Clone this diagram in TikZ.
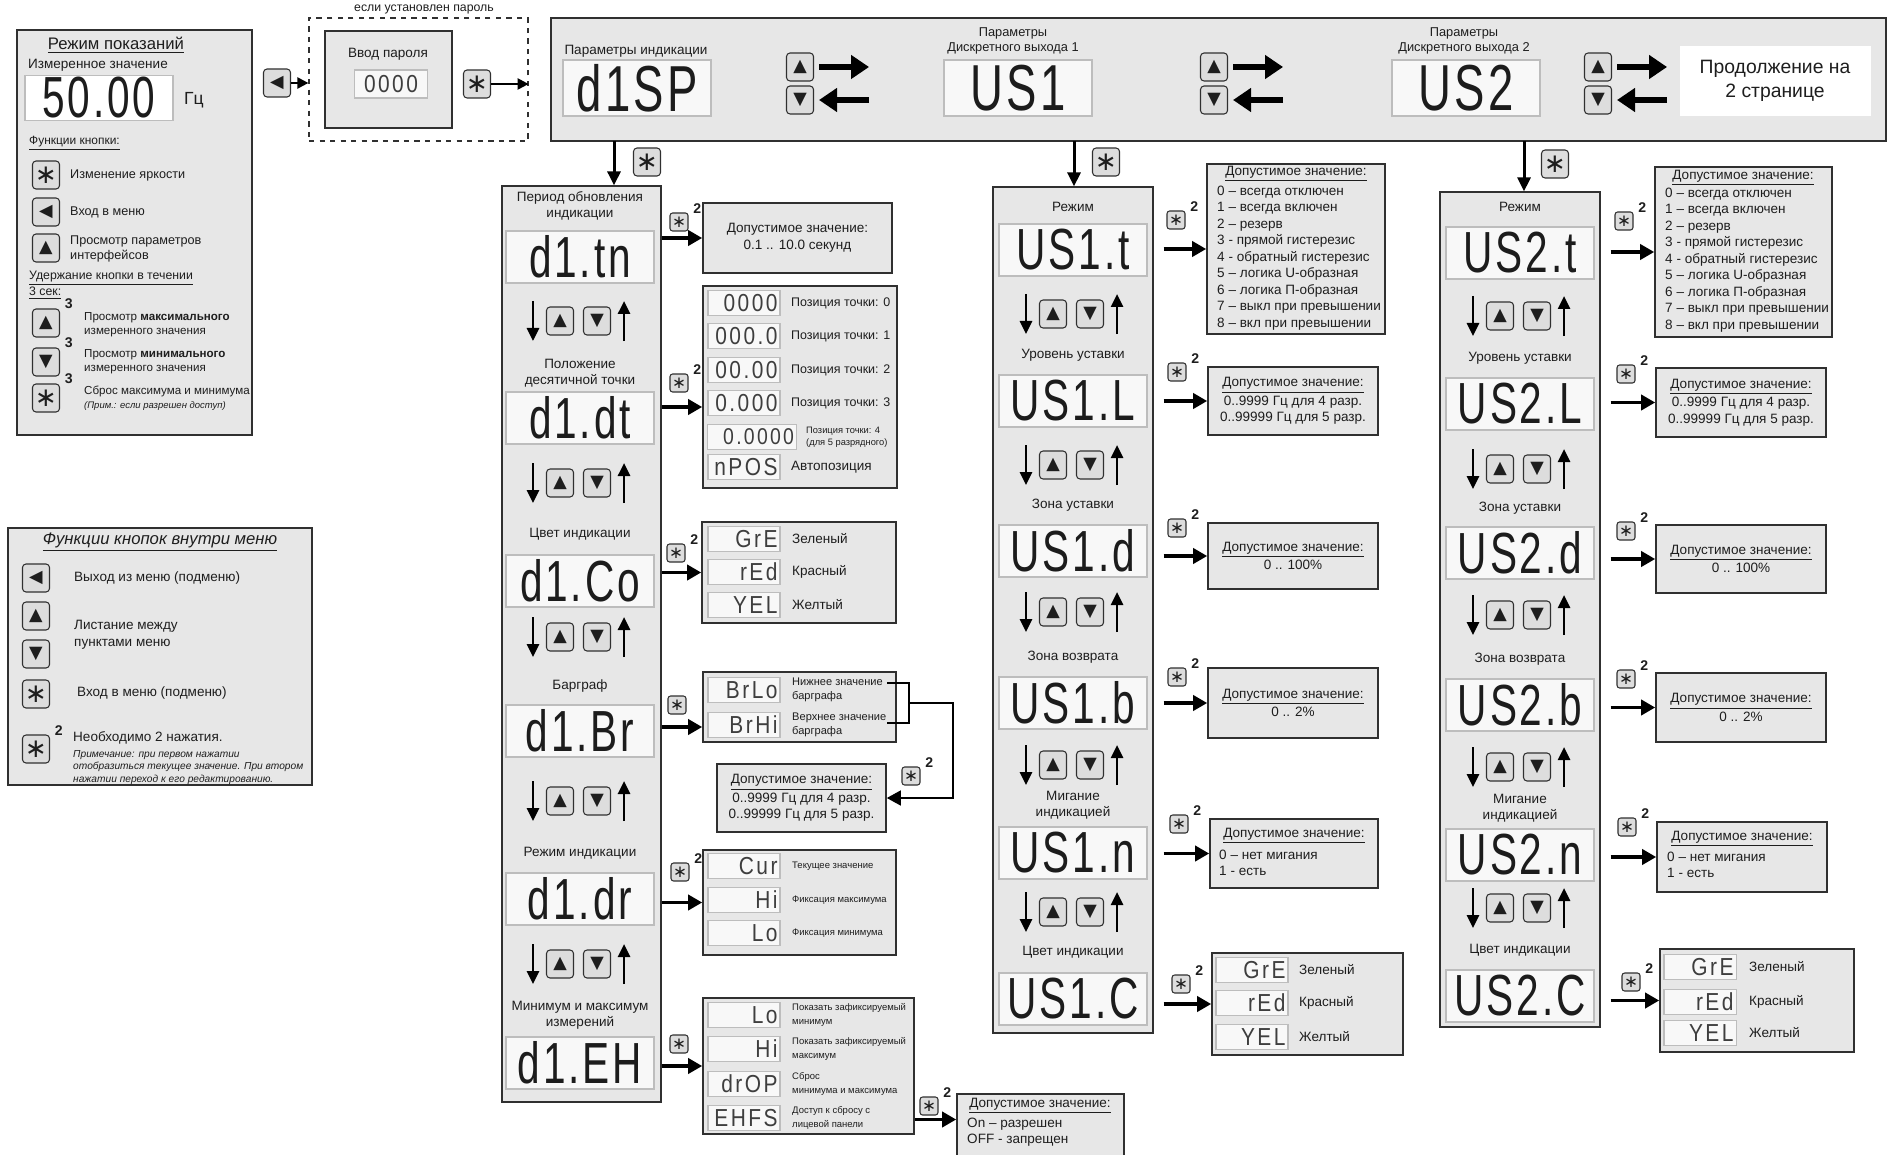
\documentclass[tikz,border=0pt]{standalone}
\usepackage{fontspec}
\setmainfont{Liberation Sans}
\newfontfamily\segfont[FakeStretch=0.7,LetterSpace=5]{Liberation Sans}
\newfontfamily\segsmall[FakeStretch=0.85,LetterSpace=10]{Liberation Sans}
\newfontfamily\btnfont{DejaVu Sans}
\usetikzlibrary{arrows.meta, positioning, calc, fit}
\definecolor{panelGray}{HTML}{E7E7E7}
\definecolor{lineDark}{HTML}{303030}
\definecolor{dispEdge}{HTML}{BDBDBD}
\definecolor{dispFill}{HTML}{F8F8F8}
\definecolor{btnFill}{HTML}{DDDDDD}
\definecolor{segInk}{HTML}{1C1C1C}
\definecolor{inkDark}{HTML}{1E1E1E}
\tikzset{
  panel/.style={draw=lineDark, fill=panelGray, line width=0.7pt, inner sep=0pt},
  optbox/.style={draw=lineDark, fill=panelGray, line width=0.9pt, inner sep=0pt},
  dispL/.style={draw=dispEdge, fill=dispFill, line width=0.8pt, inner sep=0pt, text=segInk,
                minimum width=29.6mm, minimum height=10.4mm,
                font=\segfont\fontsize{33}{33}\selectfont},
  dispT/.style={dispL, minimum height=11.2mm, font=\segfont\fontsize{37}{37}\selectfont},
  dispS/.style={draw=dispEdge, fill=dispFill, line width=0.6pt, inner xsep=0.5mm, inner ysep=0pt,
                text=segInk!85, minimum height=5mm, text width=13.4mm, align=right,
                font=\segsmall\fontsize{14}{14}\selectfont},
  btn/.style={rectangle, rounded corners=2pt, draw=lineDark, fill=btnFill, line width=0.6pt,
              minimum width=5.4mm, minimum height=5.6mm, inner sep=0pt,
              font=\btnfont\fontsize{10}{10}\selectfont},
  starB/.style={font=\btnfont\fontsize{15}{15}\selectfont},
  btnS/.style={btn, rounded corners=1.5pt, minimum width=3.6mm, minimum height=3.6mm,
               font=\btnfont\fontsize{9.5}{9.5}\selectfont},
  supN/.style={font=\fontsize{8}{8}\selectfont\bfseries, inner sep=0.3pt, xshift=0.8mm, yshift=-0.3mm},
  two/.style={label={[supN]north east:2}},
  three/.style={label={[supN]north east:3}},
  lbl/.style={align=center},
  note/.style={anchor=west, align=left},
  tinyTxt/.style={anchor=west, align=left, font=\fontsize{5.4}{8.2}\selectfont},
  arrowK/.style={-{Triangle[length=2.8mm, width=2.6mm]}, line width=0.6mm, draw=black},
  arrowS/.style={-{Triangle[length=2.8mm, width=3mm]}, line width=0.7mm, draw=black},
  arrowL/.style={-{Triangle[length=2.8mm, width=3mm]}, line width=0.3mm, draw=black},
  arrowT/.style={-{Triangle[length=2.2mm, width=2.2mm]}, line width=0.45mm, draw=black},
  navArrow/.style={-{Triangle[length=2.6mm, width=2.4mm]}, line width=0.55mm, draw=black},
  bigArrow/.style={-{Triangle[length=3.6mm, width=4.6mm]}, line width=1.1mm, draw=black},
}
% up/down pair with side arrows inside a column
\newcommand{\navrow}[3]{%
  \node[btn] (#3u) at (#1-20,#2) {▲};
  \node[btn] (#3d) at (#1+17,#2) {▼};
  \draw[navArrow] ($(#3u.west)+(-13,-20)$) -- ($(#3u.west)+(-13,20)$);
  \draw[navArrow] ($(#3d.east)+(13,20)$) -- ($(#3d.east)+(13,-20)$);
}
\newcommand{\modeList}{0 – всегда отключен\\1 – всегда включен\\2 – резерв\\3 - прямой гистерезис\\4 - обратный гистерезис\\5 – логика U-образная\\6 – логика П-образная\\7 – выкл при превышении\\8 – вкл при превышении}
\newcommand{\rangeHz}{\underline{Допустимое значение:}\\[1pt]0..9999 Гц для 4 разр.\\0..99999 Гц для 5 разр.}

\begin{document}
\begin{tikzpicture}[x=0.2mm, y=-0.2mm, text=inkDark, font=\fontsize{7.7}{9.4}\selectfont]
  \useasboundingbox[fill=white] (0,0) rectangle (1895,1155);

  %% Режим показаний
  \node[panel, fit={(17,30) (252,435)}] (modeBox) {};
  \node[font=\fontsize{9.5}{11}\selectfont] (modeTtl) at (116,45) {\underline{Режим показаний}};
  \node[anchor=west] (measLbl) at (22,65) {Измеренное значение};
  \node[dispL, fill=white, minimum height=9mm, font=\segfont\fontsize{33}{33}\selectfont] (measVal) at (99,98) {50.00};
  \node[font=\fontsize{10}{10}\selectfont] (measUnit) at (194,100) {Гц};
  \node[anchor=west, font=\fontsize{6.8}{8}\selectfont] (keyTtl) at (23,143) {\underline{Функции кнопки:}};
  \node[btn, starB] (kStar) at (46,175) {∗};
  \node[note, font=\fontsize{7.2}{8.6}\selectfont] (kStarT) at (64,175) {Изменение яркости};
  \node[btn] (kLeft) at (46,212) {◀};
  \node[note, font=\fontsize{7.2}{8.6}\selectfont] (kLeftT) at (64,212) {Вход в меню};
  \node[btn] (kUp) at (46,248) {▲};
  \node[note, font=\fontsize{7.2}{8.6}\selectfont] (kUpT) at (64,249) {Просмотр параметров\\интерфейсов};
  \node[anchor=west, font=\fontsize{7}{8.4}\selectfont] (holdTtl) at (23,278) {\underline{Удержание кнопки в течении}};
  \node[anchor=west, font=\fontsize{7}{8.4}\selectfont] (holdSec) at (23,293) {\underline{3 сек:}};
  \node[btn, three] (hUp) at (46,323) {▲};
  \node[note, font=\fontsize{6.6}{8.2}\selectfont] (hUpT) at (78,325) {Просмотр \textbf{максимального}\\измеренного значения};
  \node[btn, three] (hDn) at (46,362) {▼};
  \node[note, font=\fontsize{6.6}{8.2}\selectfont] (hDnT) at (78,362) {Просмотр \textbf{минимального}\\измеренного значения};
  \node[btn, starB, three] (hStar) at (46,398) {∗};
  \node[note, font=\fontsize{6.6}{8.2}\selectfont] (hStarT) at (78,398) {Сброс максимума и минимума\\{\fontsize{5.4}{6.5}\selectfont\itshape (Прим.: если разрешен доступ)}};

  %% Функции кнопок внутри меню
  \node[panel, fit={(8,528) (312,785)}] (menuBox) {};
  \node[font=\fontsize{9.5}{11}\selectfont\itshape] (menuTtl) at (160,542) {\underline{Функции кнопок внутри меню}};
  \node[btn] (mLeft) at (36,578) {◀};
  \node[note] (mLeftT) at (68,578) {Выход из меню (подменю)};
  \node[btn] (mUp) at (36,616) {▲};
  \node[btn] (mDown) at (36,654) {▼};
  \node[note] (mScroll) at (68,635) {Листание между\\пунктами меню};
  \node[btn, starB] (mStar) at (36,694) {∗};
  \node[note] (mStarT) at (71,693) {Вход в меню (подменю)};
  \node[btn, starB, two] (mStar2) at (36,749) {∗};
  \node[note] (mTwice) at (67,738) {Необходимо 2 нажатия.};
  \node[anchor=north west, align=left, font=\fontsize{5.8}{7.2}\selectfont\itshape] (mNote) at (67,744)
       {Примечание: при первом нажатии\\отобразиться текущее значение. При втором\\нажатии переход к его редактированию.};

  %% Вход в меню и пароль
  \node[btn] (goMenu) at (277,83) {◀};
  \node[fit={(309,18) (528,141)}, draw=lineDark, dashed, line width=0.7pt, inner sep=0pt] (pwFrame) {};
  \node[font=\fontsize{7}{8}\selectfont] (pwNote) at (424,9) {если установлен пароль};
  \node[panel, fit={(325,31) (452,128)}] (pwBox) {};
  \node (pwLbl) at (388,54) {Ввод пароля};
  \node[dispS, align=center, text width=13.6mm, minimum height=5.6mm] (pwDisp) at (391,84) {0000};
  \node[btn, starB] (pwOk) at (477,84) {∗};
  \draw[arrowT] (goMenu) -- (pwFrame.west |- goMenu);
  \draw[arrowT] (pwOk) -- (pwFrame.east |- pwOk);

  %% Верхняя строка параметров
  \node[panel, fit={(551,18) (1886,141)}] (topBar) {};
  \node (dTtl) at (636,51) {Параметры индикации};
  \node[dispT] (dMain) at (637,88) {d1SP};
  \node[btn] (tU1) at (800,67) {▲};
  \node[btn] (tD1) at (800,100) {▼};
  \draw[bigArrow] ($(tU1.east)+(5,0)$) -- ($(tU1.east)+(55,0)$);
  \draw[bigArrow] ($(tD1.east)+(55,0)$) -- ($(tD1.east)+(5,0)$);
  \node[lbl, font=\fontsize{7.3}{8.6}\selectfont] (u1Ttl) at (1013,41) {Параметры\\Дискретного выхода 1};
  \node[dispT] (u1Main) at (1018,88) {US1};
  \node[btn] (tU2) at (1214,67) {▲};
  \node[btn] (tD2) at (1214,100) {▼};
  \draw[bigArrow] ($(tU2.east)+(5,0)$) -- ($(tU2.east)+(55,0)$);
  \draw[bigArrow] ($(tD2.east)+(55,0)$) -- ($(tD2.east)+(5,0)$);
  \node[lbl, font=\fontsize{7.3}{8.6}\selectfont] (u2Ttl) at (1464,41) {Параметры\\Дискретного выхода 2};
  \node[dispT] (u2Main) at (1466,88) {US2};
  \node[btn] (tU3) at (1598,67) {▲};
  \node[btn] (tD3) at (1598,100) {▼};
  \draw[bigArrow] ($(tU3.east)+(5,0)$) -- ($(tU3.east)+(55,0)$);
  \draw[bigArrow] ($(tD3.east)+(55,0)$) -- ($(tD3.east)+(5,0)$);
  \node[fill=white, minimum width=38.2mm, minimum height=14mm, align=center,
        font=\fontsize{11}{14}\selectfont] (nextPg) at (1775,81) {Продолжение на\\2 странице};

  %% Колонка: параметры индикации
  \node[panel, fit={(502,186) (661,1102)}] (colD) {};
  \node[btn, starB] (enD) at (647,162) {∗};
  \coordinate (inD) at (614,141);
  \draw[arrowK] (inD) -- (inD |- colD.north);
  \node[lbl] (lTn) at (580,206) {Период обновления\\индикации};
  \node[dispL] (dTn) at (580,257) {d1.tn};
  \node[lbl] (lDt) at (580,373) {Положение\\десятичной точки};
  \node[dispL] (dDt) at (580,418) {d1.dt};
  \node[lbl] (lCo) at (580,534) {Цвет индикации};
  \node[dispL] (dCo) at (580,581) {d1.Co};
  \node[lbl] (lBr) at (580,686) {Барграф};
  \node[dispL] (dBr) at (580,731) {d1.Br};
  \node[lbl] (lDr) at (580,853) {Режим индикации};
  \node[dispL] (dDr) at (580,899) {d1.dr};
  \node[lbl] (lEH) at (580,1015) {Минимум и максимум\\измерений};
  \node[dispL] (dEH) at (580,1063) {d1.EH};
  \foreach \y [count=\i] in {321,483,637,801,964} {\navrow{580}{\y}{nD\i}}

  % период обновления
  \node[btnS, two] (sTn) at (679,222) {∗};
  \node[optbox, fit={(703,203) (892,273)}] (oTn) {};
  \node[align=center] (oTnT) at (oTn) {Допустимое значение:\\0.1 .. 10.0 секунд};
  \draw[arrowS] (colD.east |- oTn.west) -- (oTn.west);
  % положение точки
  \node[btnS, two] (sDt) at (679,383) {∗};
  \node[optbox, fit={(703,286) (897,488)}] (oDt) {};
  \draw[arrowS] ($(colD.east |- oDt.west)+(0,20)$) -- ($(oDt.west)+(0,20)$);
  \foreach \t/\y/\n in {0000/303/0, 000.0/336/1, 00.00/370/2, 0.000/403/3} {
    \node[dispS] (pt\n) at (744,\y) {\t};
    \node[note, font=\fontsize{7.1}{8.6}\selectfont] (ptT\n) at (785,\y) {Позиция точки: \n};
  }
  \node[dispS, text width=16.8mm, font=\segsmall\fontsize{13}{13}\selectfont] (pt4) at (752,437) {0.0000};
  \node[note, font=\fontsize{5.3}{6.6}\selectfont] (ptT4) at (800,437) {Позиция точки: 4\\(для 5 разрядного)};
  \node[dispS] (ptA) at (744,467) {nPOS};
  \node[note] (ptTA) at (785,467) {Автопозиция};
  % цвет индикации
  \node[btnS, two] (sCo) at (676,553) {∗};
  \node[optbox, fit={(702,522) (896,623)}] (oCo) {};
  \draw[arrowS] (colD.east |- oCo.west) -- (oCo.west);
  \foreach \t/\c/\y [count=\i] in {GrE/Зеленый/539, rEd/Красный/572, YEL/Желтый/605} {
    \node[dispS] (cD\i) at (744,\y) {\t};
    \node[note] (cDT\i) at (786,\y) {\c};
  }
  % барграф
  \node[btnS] (sBr) at (677,705) {∗};
  \node[optbox, fit={(703,672) (896,742)}] (oBr) {};
  \draw[arrowS] ($(colD.east |- oBr.west)+(0,20)$) -- ($(oBr.west)+(0,20)$);
  \node[dispS] (brLo) at (744,690) {BrLo};
  \node[dispS] (brHi) at (744,725) {BrHi};
  \node[note, font=\fontsize{6.3}{7.8}\selectfont] (brLoT) at (786,690) {Нижнее значение\\барграфа};
  \node[note, font=\fontsize{6.3}{7.8}\selectfont] (brHiT) at (786,725) {Верхнее значение\\барграфа};
  \coordinate (brA) at (887,683);
  \coordinate (brB) at (887,723);
  \coordinate (brJ) at (909,703);
  \draw[line width=0.3mm] (brA) -- ++(22,0) |- (brB);
  \node[optbox, fit={(717,764) (886,832)}] (oBrV) {};
  \node[align=center] (oBrVT) at (oBrV) {\rangeHz};
  \draw[arrowL] (brJ) -- ++(44,0) |- (oBrV.east);
  \node[btnS, two] (sBrV) at (911,776) {∗};
  % режим индикации
  \node[btnS, two] (sDr) at (680,872) {∗};
  \node[optbox, fit={(703,850) (896,955)}] (oDr) {};
  \draw[arrowS] (colD.east |- oDr.west) -- (oDr.west);
  \foreach \t/\c/\y [count=\i] in {Cur/Текущее значение/866, Hi/Фиксация максимума/900, Lo/Фиксация минимума/933} {
    \node[dispS] (rD\i) at (744,\y) {\t};
    \node[tinyTxt] (rDT\i) at (786,\y) {\c};
  }
  % минимум и максимум
  \node[btnS] (sEH) at (679,1044) {∗};
  \node[optbox, fit={(703,998) (914,1134)}] (oEH) {};
  \draw[arrowS] (colD.east |- oEH.west) -- (oEH.west);
  \foreach \t/\c/\y [count=\i] in {Lo/{Показать зафиксируемый\\минимум}/1015,
      Hi/{Показать зафиксируемый\\максимум}/1049, drOP/{Сброс\\минимума и максимума}/1084,
      EHFS/{Доступ к сбросу с\\лицевой панели}/1118} {
    \node[dispS] (eD\i) at (744,\y) {\t};
    \node[tinyTxt] (eDT\i) at (786,\y) {\c};
  }
  \node[btnS, two] (sEHV) at (929,1106) {∗};
  \node[optbox, fit={(957,1094) (1124,1175)}] (oEHV) {};
  \coordinate (inEHV) at ($(oEHV.west)+(0,-15)$);
  \draw[arrowS] (oEH.east |- inEHV) -- (inEHV);
  \node (oEHVT) at (1040,1106) {\underline{Допустимое значение:}};
  \node[note] (oEHVL) at (961,1132) {On – разрешен\\OFF - запрещен};

  %% Колонка: дискретный выход 1
  \node[panel, fit={(993,187) (1153,1033)}] (colU1) {};
  \node[btn, starB] (enU1) at (1106,162) {∗};
  \coordinate (inU1) at (1074,141);
  \draw[arrowK] (inU1) -- (inU1 |- colU1.north);
  \node[lbl] (lU1t) at (1073,207) {Режим};
  \node[dispL] (u1t) at (1073,250) {US1.t};
  \node[lbl] (lU1L) at (1073,355) {Уровень уставки};
  \node[dispL] (u1L) at (1073,401) {US1.L};
  \node[lbl] (lU1d) at (1073,505) {Зона уставки};
  \node[dispL] (u1d) at (1073,551) {US1.d};
  \node[lbl] (lU1b) at (1073,657) {Зона возврата};
  \node[dispL] (u1b) at (1073,703) {US1.b};
  \node[lbl] (lU1n) at (1073,805) {Мигание\\индикацией};
  \node[dispL] (u1n) at (1073,853) {US1.n};
  \node[lbl] (lU1C) at (1073,952) {Цвет индикации};
  \node[dispL] (u1C) at (1073,999) {US1.C};
  \foreach \y [count=\i] in {314,465,612,765,912} {\navrow{1073}{\y}{nU\i}}

  \node[btnS, two] (sU1t) at (1176,220) {∗};
  \node[optbox, fit={(1207,164) (1385,334)}] (oU1t) {};
  \draw[arrowS, shorten <=2mm] (colU1.east |- oU1t.west) -- (oU1t.west);
  \node (oU1tH) at (1296,174) {\underline{Допустимое значение:}};
  \node[note] (oU1tL) at (1211,258) {\modeList};
  \node[btnS, two] (sU1L) at (1177,372) {∗};
  \node[optbox, fit={(1208,367) (1378,435)}] (oU1L) {};
  \draw[arrowS, shorten <=2mm] (colU1.east |- oU1L.west) -- (oU1L.west);
  \node[align=center] (oU1LT) at (oU1L) {\rangeHz};
  \node[btnS, two] (sU1d) at (1177,528) {∗};
  \node[optbox, fit={(1208,523) (1378,589)}] (oU1d) {};
  \draw[arrowS, shorten <=2mm] (colU1.east |- oU1d.west) -- (oU1d.west);
  \node[align=center] (oU1dT) at (oU1d) {\underline{Допустимое значение:}\\[1pt]0 .. 100\%};
  \node[btnS, two] (sU1b) at (1177,677) {∗};
  \node[optbox, fit={(1208,668) (1378,738)}] (oU1b) {};
  \draw[arrowS, shorten <=2mm] (colU1.east |- oU1b.west) -- (oU1b.west);
  \node[align=center] (oU1bT) at (oU1b) {\underline{Допустимое значение:}\\[1pt]0 .. 2\%};
  \node[btnS, two] (sU1n) at (1179,824) {∗};
  \node[optbox, fit={(1210,819) (1378,888)}] (oU1n) {};
  \draw[arrowS, shorten <=2mm] (colU1.east |- oU1n.west) -- (oU1n.west);
  \node (oU1nH) at (1294,836) {\underline{Допустимое значение:}};
  \node[note] (oU1nL) at (1213,863) {0 – нет мигания\\1 - есть};
  \node[btnS, two] (sU1C) at (1181,984) {∗};
  \node[optbox, fit={(1212,953) (1403,1055)}] (oU1C) {};
  \draw[arrowS, shorten <=2mm] (colU1.east |- oU1C.west) -- (oU1C.west);
  \foreach \t/\c/\y [count=\i] in {GrE/Зеленый/970, rEd/Красный/1003, YEL/Желтый/1037} {
    \node[dispS] (cU\i) at (1252,\y) {\t};
    \node[note] (cUT\i) at (1293,\y) {\c};
  }

  %% Колонка: дискретный выход 2
  \node[panel, fit={(1440,192) (1600,1027)}] (colU2) {};
  \node[btn, starB] (enU2) at (1555,164) {∗};
  \coordinate (inU2) at (1524,141);
  \draw[arrowK] (inU2) -- (inU2 |- colU2.north);
  \node[lbl] (lU2t) at (1520,207) {Режим};
  \node[dispL] (u2t) at (1520,253) {US2.t};
  \node[lbl] (lU2L) at (1520,358) {Уровень уставки};
  \node[dispL] (u2L) at (1520,404) {US2.L};
  \node[lbl] (lU2d) at (1520,508) {Зона уставки};
  \node[dispL] (u2d) at (1520,553) {US2.d};
  \node[lbl] (lU2b) at (1520,659) {Зона возврата};
  \node[dispL] (u2b) at (1520,705) {US2.b};
  \node[lbl] (lU2n) at (1520,808) {Мигание\\индикацией};
  \node[dispL] (u2n) at (1520,855) {US2.n};
  \node[lbl] (lU2C) at (1520,950) {Цвет индикации};
  \node[dispL] (u2C) at (1520,996) {US2.C};
  \foreach \y [count=\i] in {316,469,615,767,908} {\navrow{1520}{\y}{nW\i}}

  \node[btnS, two] (sU2t) at (1624,221) {∗};
  \node[optbox, fit={(1655,167) (1832,337)}] (oU2t) {};
  \draw[arrowS, shorten <=2mm] (colU2.east |- oU2t.west) -- (oU2t.west);
  \node (oU2tH) at (1743,178) {\underline{Допустимое значение:}};
  \node[note] (oU2tL) at (1659,260) {\modeList};
  \node[btnS, two] (sU2L) at (1626,374) {∗};
  \node[optbox, fit={(1656,368) (1826,437)}] (oU2L) {};
  \draw[arrowS, shorten <=2mm] (colU2.east |- oU2L.west) -- (oU2L.west);
  \node[align=center] (oU2LT) at (oU2L) {\rangeHz};
  \node[btnS, two] (sU2d) at (1626,531) {∗};
  \node[optbox, fit={(1656,525) (1826,593)}] (oU2d) {};
  \draw[arrowS, shorten <=2mm] (colU2.east |- oU2d.west) -- (oU2d.west);
  \node[align=center] (oU2dT) at (oU2d) {\underline{Допустимое значение:}\\[1pt]0 .. 100\%};
  \node[btnS, two] (sU2b) at (1626,679) {∗};
  \node[optbox, fit={(1656,673) (1826,742)}] (oU2b) {};
  \draw[arrowS, shorten <=2mm] (colU2.east |- oU2b.west) -- (oU2b.west);
  \node[align=center] (oU2bT) at (oU2b) {\underline{Допустимое значение:}\\[1pt]0 .. 2\%};
  \node[btnS, two] (sU2n) at (1627,827) {∗};
  \node[optbox, fit={(1657,822) (1827,892)}] (oU2n) {};
  \draw[arrowS, shorten <=2mm] (colU2.east |- oU2n.west) -- (oU2n.west);
  \node (oU2nH) at (1742,839) {\underline{Допустимое значение:}};
  \node[note] (oU2nL) at (1661,865) {0 – нет мигания\\1 - есть};
  \node[btnS, two] (sU2C) at (1631,982) {∗};
  \node[optbox, fit={(1660,949) (1854,1052)}] (oU2C) {};
  \draw[arrowS, shorten <=2mm] (colU2.east |- oU2C.west) -- (oU2C.west);
  \foreach \t/\c/\y [count=\i] in {GrE/Зеленый/967, rEd/Красный/1002, YEL/Желтый/1033} {
    \node[dispS] (cW\i) at (1700,\y) {\t};
    \node[note] (cWT\i) at (1743,\y) {\c};
  }
\end{tikzpicture}
\end{document}
